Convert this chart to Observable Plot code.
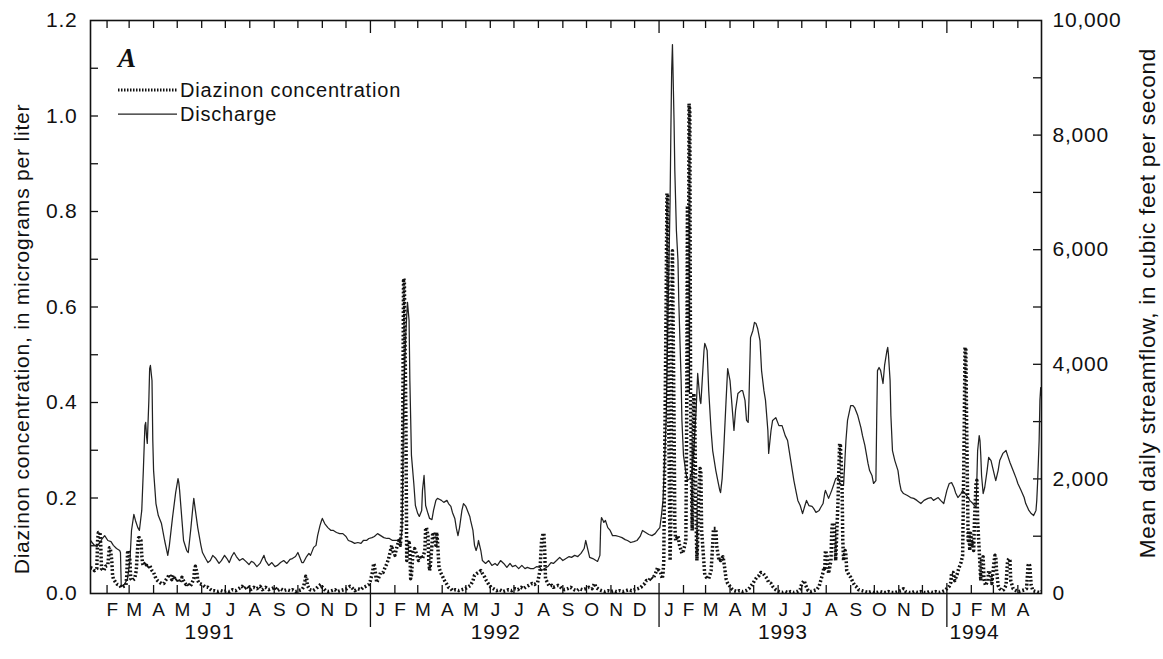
<!DOCTYPE html>
<html>
<head>
<meta charset="utf-8">
<script src="https://cdn.jsdelivr.net/npm/d3@7"></script>
<script src="https://cdn.jsdelivr.net/npm/@observablehq/plot@0.6"></script>
<style>
  html, body { margin: 0; padding: 0; background: #fff; }
  #chart svg text { letter-spacing: 0.8px; }
</style>
</head>
<body>
<div id="chart"></div>
<script>
// Days are counted from 1 January 1991 (day 0).
// Diazinon concentration, micrograms per liter: [day, concentration]
const diazinon1991 = [[10,.054],[13,.052],[15,.048],[18,.052],[19,.111],[20,.128],[22,.128],[23,.101],[24,.052],[27,.048],[29,.057],[32,.059],[33,.080],[34,.096],[35,.096],[37,.069],[38,.038],[39,.031],[42,.023],[44,.019],[47,.017],[49,.013],[52,.015],[55,.017],[56,.038],[57,.086],[58,.090],[60,.069],[61,.031],[63,.027],[66,.031],[68,.048],[70,.101],[71,.117],[72,.117],[74,.111],[75,.080],[76,.063],[77,.059],[80,.065],[82,.054],[85,.059],[88,.048],[90,.044],[93,.031],[95,.027],[98,.023],[100,.021],[103,.021],[105,.027],[108,.034],[110,.040],[113,.029],[115,.038],[118,.027],[121,.031],[123,.023],[126,.034],[128,.027],[131,.019],[133,.021],[136,.015],[138,.019],[141,.031],[142,.052],[143,.057],[145,.044],[146,.027],[148,.021],[151,.019],[153,.017],[156,.013],[159,.013],[161,.010],[164,.006],[167,.006],[171,.004],[175,.006],[179,.004],[183,.006],[186,.004],[190,.008],[194,.006],[198,.010],[202,.015],[205,.010],[209,.015],[213,.008],[217,.013],[221,.010],[225,.015],[228,.008],[232,.013],[236,.008],[240,.010],[244,.013],[247,.006],[251,.010],[255,.006],[259,.008],[263,.006],[266,.008],[270,.004],[274,.006],[278,.008],[280,.013],[282,.027],[283,.036],[284,.034],[285,.017],[288,.008],[292,.006],[296,.010],[299,.015],[302,.019],[304,.013],[308,.006],[312,.004],[316,.006],[320,.008],[323,.004],[327,.006],[331,.008],[335,.010],[339,.015],[341,.013],[345,.006],[349,.010],[353,.008],[356,.013],[359,.015],[363,.019]];
const diazinon1992 = [[365,.027],[368,.048],[369,.063],[370,.059],[373,.023],[375,.031],[378,.044],[381,.044],[383,.052],[386,.063],[388,.073],[391,.094],[392,.101],[393,.090],[396,.080],[398,.094],[401,.111],[403,.101],[405,.153],[406,.362],[407,.660],[408,.655],[410,.362],[411,.069],[412,.101],[414,.111],[415,.090],[416,.031],[417,.038],[419,.086],[421,.094],[424,.080],[426,.069],[429,.080],[431,.073],[434,.090],[435,.136],[436,.138],[438,.121],[439,.069],[440,.048],[441,.059],[443,.101],[444,.128],[445,.124],[448,.101],[449,.128],[450,.111],[452,.054],[454,.044],[457,.034],[459,.027],[462,.019],[464,.013],[467,.010],[469,.006],[473,.008],[477,.006],[481,.008],[485,.010],[488,.013],[492,.017],[495,.027],[497,.038],[500,.042],[502,.044],[505,.048],[507,.042],[510,.034],[512,.027],[515,.019],[518,.013],[521,.010],[525,.006],[529,.008],[533,.004],[537,.006],[540,.008],[544,.006],[548,.010],[552,.008],[556,.013],[559,.010],[563,.015],[566,.017],[570,.021],[573,.019],[577,.023],[580,.048],[582,.111],[584,.126],[585,.126],[586,.090],[587,.031],[590,.021],[592,.015],[595,.017],[597,.013],[600,.015],[603,.017],[605,.015],[608,.010],[611,.008],[615,.010],[619,.013],[623,.008],[627,.006],[630,.010],[634,.008],[638,.010],[642,.013],[646,.010],[648,.017],[649,.021],[651,.013],[655,.008],[658,.006],[662,.004],[666,.006],[670,.004],[674,.006],[677,.004],[681,.006],[685,.004],[689,.006],[693,.008],[696,.006],[700,.008],[704,.010],[708,.013],[710,.017],[713,.021],[715,.027],[718,.027],[721,.034],[723,.031],[726,.040],[728,.048],[729,.054]];
const diazinon1993 = [[731,.048],[733,.044],[735,.031],[736,.040],[737,.069],[738,.258],[740,.614],[741,.838],[742,.833],[743,.404],[745,.069],[746,.153],[747,.614],[748,.718],[750,.362],[751,.142],[752,.111],[755,.121],[757,.101],[760,.084],[762,.090],[765,.111],[766,.350],[767,.812],[768,.420],[769,1.026],[770,1.011],[771,.400],[773,.132],[774,.237],[775,.419],[776,.404],[778,.153],[779,.069],[780,.111],[781,.195],[783,.262],[784,.258],[785,.132],[789,.038],[791,.034],[794,.031],[797,.048],[799,.101],[800,.136],[803,.136],[804,.101],[807,.069],[808,.075],[809,.069],[812,.077],[813,.069],[816,.031],[818,.021],[821,.015],[823,.010],[826,.006],[830,.004],[833,.006],[837,.004],[841,.006],[845,.010],[847,.015],[850,.021],[852,.027],[855,.034],[858,.038],[860,.044],[863,.042],[865,.038],[868,.031],[870,.023],[873,.021],[875,.015],[879,.008],[883,.004],[887,.002],[891,.004],[894,.002],[898,.004],[902,.002],[906,.004],[910,.008],[912,.021],[915,.027],[917,.017],[920,.006],[923,.004],[927,.006],[931,.008],[934,.015],[936,.027],[939,.044],[940,.054],[941,.048],[942,.090],[944,.080],[946,.042],[949,.069],[950,.132],[951,.147],[953,.147],[954,.111],[955,.069],[958,.195],[959,.258],[960,.314],[961,.310],[963,.237],[964,.111],[965,.069],[967,.090],[968,.080],[969,.048],[972,.038],[974,.034],[977,.023],[979,.017],[982,.013],[984,.008],[988,.006],[992,.004],[996,.002],[1000,.004],[1003,.002],[1007,.002],[1011,.004],[1015,.002],[1019,.002],[1022,.004],[1026,.002],[1030,.002],[1034,.004],[1038,.006],[1041,.010],[1044,.004],[1048,.002],[1052,.002],[1055,.004],[1059,.002],[1063,.004],[1067,.002],[1071,.002],[1074,.004],[1078,.002],[1082,.004],[1086,.002],[1090,.004],[1093,.006]];
const diazinon1994 = [[1096,.010],[1099,.015],[1101,.023],[1102,.044],[1104,.044],[1106,.027],[1109,.040],[1111,.052],[1114,.065],[1116,.080],[1118,.341],[1119,.515],[1120,.515],[1121,.362],[1123,.111],[1124,.132],[1125,.090],[1126,.126],[1128,.101],[1129,.111],[1130,.090],[1131,.153],[1133,.232],[1134,.237],[1135,.153],[1137,.090],[1138,.059],[1139,.027],[1140,.073],[1142,.077],[1143,.031],[1145,.017],[1148,.027],[1149,.048],[1152,.038],[1153,.021],[1156,.069],[1157,.080],[1158,.077],[1159,.048],[1161,.017],[1163,.010],[1166,.006],[1168,.008],[1171,.017],[1173,.069],[1175,.073],[1176,.069],[1177,.027],[1180,.010],[1184,.006],[1187,.004],[1191,.006],[1195,.008],[1197,.010],[1199,.059],[1200,.063],[1201,.059],[1203,.017],[1205,.006],[1209,.004],[1213,.002],[1216,.004]];

// Mean daily streamflow, cubic feet per second: [day, discharge]
const discharge1991 = [[10,925],[14,855],[18,820],[22,890],[25,960],[28,1010],[32,925],[36,905],[39,840],[43,785],[47,750],[48,715],[49,120],[53,160],[57,260],[60,575],[62,1100],[65,1380],[67,1275],[70,1150],[72,1100],[75,1450],[77,2145],[79,2930],[80,2985],[81,2755],[82,2620],[84,3370],[85,3925],[86,3980],[88,3715],[89,2670],[90,2145],[93,1570],[96,1360],[100,1220],[104,925],[108,665],[110,840],[114,1325],[118,1760],[121,2005],[122,1935],[123,1800],[126,1275],[128,925],[132,750],[134,715],[137,1100],[140,1535],[141,1660],[143,1450],[146,1150],[150,840],[152,715],[156,610],[159,540],[162,575],[165,665],[169,610],[173,525],[176,575],[180,665],[183,610],[186,540],[189,645],[192,715],[195,645],[199,575],[203,610],[207,560],[211,505],[214,560],[217,540],[221,470],[225,525],[228,610],[230,665],[232,575],[236,490],[240,540],[244,470],[247,490],[251,540],[255,575],[259,525],[263,595],[266,610],[270,645],[273,715],[275,645],[278,540],[280,540],[284,645],[287,700],[289,665],[293,805],[296,840],[298,1010],[301,1185],[303,1275],[304,1310],[307,1220],[311,1150],[315,1100],[318,1100],[322,1065],[326,1045],[330,1045],[334,995],[337,925],[341,905],[345,875],[349,890],[353,875],[356,925],[360,925],[363,960]];
const discharge1992 = [[367,975],[370,995],[374,1045],[378,1010],[382,975],[386,960],[389,960],[393,925],[397,925],[401,925],[403,890],[405,1100],[406,1970],[407,3370],[410,4590],[412,5080],[414,4765],[415,3715],[416,3070],[417,2410],[420,1920],[422,1535],[425,1395],[427,1345],[430,1450],[431,1800],[433,2060],[434,1800],[435,1535],[438,1395],[440,1310],[443,1290],[445,1450],[448,1625],[450,1660],[453,1640],[455,1625],[458,1590],[462,1625],[464,1570],[467,1520],[469,1415],[472,1310],[474,1135],[476,1010],[478,1150],[481,1450],[483,1570],[486,1520],[488,1450],[491,1345],[492,1275],[495,1100],[497,840],[499,750],[501,840],[502,925],[505,750],[507,575],[511,525],[515,575],[519,490],[523,525],[526,490],[530,575],[534,525],[538,455],[542,525],[545,470],[549,490],[553,435],[557,490],[561,435],[564,455],[568,435],[572,435],[576,470],[580,455],[582,400],[586,435],[590,470],[594,540],[597,525],[601,575],[605,630],[609,575],[613,610],[617,645],[620,630],[624,665],[628,645],[632,700],[636,785],[638,925],[641,750],[643,630],[647,610],[651,575],[653,560],[656,665],[657,1185],[658,1325],[660,1275],[661,1240],[663,1275],[666,1150],[669,1100],[672,1010],[676,1010],[680,995],[684,975],[688,940],[691,925],[695,890],[699,905],[703,925],[707,995],[710,1100],[714,1065],[718,1030],[722,1010],[726,1045],[729,1100]];
const discharge1993 = [[732,1150],[734,1360],[736,1625],[737,1970],[740,3020],[742,4590],[745,6860],[746,8080],[747,9125],[748,9580],[750,8255],[751,7380],[752,6860],[753,6335],[755,5810],[756,5115],[759,3715],[760,3020],[762,2410],[765,2110],[767,1970],[770,2005],[773,2145],[775,2495],[778,3195],[780,3840],[783,3370],[784,3315],[785,3540],[788,4240],[789,4365],[790,4330],[792,4240],[794,3540],[797,2845],[799,2495],[803,2145],[806,1935],[808,1800],[809,1760],[811,2005],[813,2495],[816,3370],[818,3925],[821,3715],[823,3370],[826,2845],[828,3195],[831,3490],[835,3540],[837,3540],[840,3370],[842,3020],[844,2985],[845,3370],[847,4465],[850,4590],[852,4730],[854,4710],[856,4625],[859,4415],[861,3890],[864,3540],[866,3370],[869,2845],[870,2445],[873,2845],[875,3020],[879,3070],[883,2930],[887,2930],[891,2755],[894,2670],[896,2495],[900,2145],[902,1970],[905,1760],[907,1625],[910,1535],[913,1395],[916,1535],[918,1625],[921,1535],[925,1520],[927,1485],[930,1415],[934,1450],[936,1500],[939,1570],[941,1745],[942,1800],[945,1695],[946,1660],[950,1800],[953,1920],[955,2005],[958,2025],[960,1935],[963,1885],[965,1885],[968,2670],[970,3020],[974,3280],[977,3280],[979,3245],[983,3105],[987,2895],[989,2755],[992,2585],[996,2270],[998,2145],[1001,2060],[1003,1920],[1006,1970],[1007,3020],[1008,3890],[1010,3945],[1012,3890],[1015,3665],[1017,3980],[1020,4240],[1021,4295],[1022,4155],[1024,3715],[1025,3105],[1027,2495],[1030,2320],[1034,2145],[1036,1935],[1038,1800],[1041,1745],[1046,1710],[1050,1675],[1054,1660],[1058,1625],[1063,1570],[1067,1625],[1072,1660],[1076,1675],[1079,1625],[1085,1675],[1088,1625],[1092,1570]];
const discharge1994 = [[1096,1800],[1099,1920],[1102,1935],[1105,1850],[1107,1760],[1110,1675],[1114,1745],[1116,1800],[1120,1730],[1123,1675],[1125,1625],[1129,1570],[1131,1535],[1133,1500],[1134,1970],[1135,2495],[1137,2755],[1138,2670],[1139,2410],[1140,2060],[1142,1745],[1144,1850],[1147,2145],[1149,2375],[1152,2320],[1154,2200],[1157,2025],[1158,1970],[1161,2145],[1163,2320],[1167,2445],[1171,2495],[1173,2410],[1176,2285],[1180,2145],[1184,2005],[1186,1920],[1190,1800],[1194,1675],[1196,1570],[1200,1450],[1203,1395],[1206,1360],[1209,1450],[1210,1625],[1211,1920],[1213,2670],[1214,3370],[1215,3595],[1216,3455]];

// Axis ticks and labels
const concTicks = [0, 0.2, 0.4, 0.6, 0.8, 1.0, 1.2];
const concMinorTicks = [0.1, 0.2, 0.3, 0.4, 0.5, 0.6, 0.7, 0.8, 0.9, 1.0, 1.1];
const flowTicks = [0, 2000, 4000, 6000, 8000, 10000];
const flowMinorTicks = [1000, 2000, 3000, 4000, 5000, 6000, 7000, 8000, 9000];
const monthInitials = ["J", "F", "M", "A", "M", "J", "J", "A", "S", "O", "N", "D"];
const yearLabels = ["1991", "1992", "1993", "1994"];
const yearLabelDates = ["1991-06-11", "1992-06-08", "1993-06-07", "1994-02-05"];
const firstDay = 10, lastDay = 1216;

const leftTitle = "Diazinon concentration, in micrograms per liter";
const rightTitle = "Mean daily streamflow, in cubic feet per second";
const legendLabels = ["Diazinon concentration", "Discharge"];
const panelLetter = "A";

const origin = new Date(Date.UTC(1991, 0, 1));
const toDate = day => d3.utcDay.offset(origin, day);
const flowToConc = 1.2 / 10000; // streamflow shares the concentration axis

const diazinon = [...diazinon1991, ...diazinon1992, ...diazinon1993, ...diazinon1994]
  .map(([day, c]) => ({date: toDate(day), c}));
const discharge = [...discharge1991, ...discharge1992, ...discharge1993, ...discharge1994]
  .map(([day, q]) => ({date: toDate(day), q}));

const xStart = toDate(firstDay), xEnd = toDate(lastDay);
const monthStarts = d3.utcMonth.range(new Date(Date.UTC(1991, 1, 1)), xEnd);
const monthTicks = monthStarts.filter(d => d.getUTCMonth() !== 0);
const yearStarts = monthStarts.filter(d => d.getUTCMonth() === 0);
// month initials sit early in the month; January clears the year rule
const monthLabelDate = d => d3.utcDay.offset(d, d.getUTCMonth() === 0 ? 13 : 7);

const ink = "#111";
const dots = "1.8,2.1";

const chart = Plot.plot({
  width: 1163,
  height: 659,
  marginLeft: 90,
  marginRight: 122,
  marginTop: 20,
  marginBottom: 66,
  style: {fontFamily: "'Liberation Sans', Arial, Helvetica, sans-serif", fontSize: "20px", color: ink, background: "#fff"},
  x: {type: "utc", domain: [xStart, xEnd], axis: null},
  y: {domain: [0, 1.2], axis: null},
  marks: [
    // tick marks pointing into the plot
    Plot.ruleX(monthTicks, {x: d => d, y1: 0, y2: 0, insetBottom: 8, stroke: ink, strokeWidth: 1.3}),
    Plot.ruleX(yearStarts, {x: d => d, y1: 0, y2: 0, insetTop: 34, insetBottom: 10, stroke: ink, strokeWidth: 1.3}),
    Plot.ruleX(monthTicks, {x: d => d, y1: 1.2, y2: 1.2, insetBottom: -8, stroke: ink, strokeWidth: 1.3}),
    Plot.ruleX(yearStarts, {x: d => d, y1: 1.2, y2: 1.2, insetBottom: -13, stroke: ink, strokeWidth: 1.3}),
    Plot.ruleY(concMinorTicks, {y: d => d, x1: xStart, x2: xStart, insetRight: -8, stroke: ink, strokeWidth: 1.3}),
    Plot.ruleY(flowMinorTicks, {y: d => d * flowToConc, x1: xEnd, x2: xEnd, insetLeft: -8, stroke: ink, strokeWidth: 1.3}),

    // series
    Plot.line(discharge, {x: "date", y: d => d.q * flowToConc, stroke: "#222", strokeWidth: 1.25, clip: true}),
    Plot.line(diazinon, {x: "date", y: "c", stroke: ink, strokeWidth: 3.5, strokeDasharray: dots, strokeLinecap: "butt", clip: true}),

    Plot.frame({stroke: ink, strokeWidth: 1.6}),

    // axes
    Plot.axisY(concTicks, {anchor: "left", tickSize: 0, tickPadding: 13, tickFormat: d3.format(".1f"), fontSize: 21, label: null}),
    Plot.axisY(flowTicks.map(q => q * flowToConc), {anchor: "right", tickSize: 0, tickPadding: 11, tickFormat: v => d3.format(",")(Math.round(v / flowToConc)), fontSize: 21, label: null}),
    Plot.text(monthStarts, {x: monthLabelDate, text: d => monthInitials[d.getUTCMonth()], frameAnchor: "bottom", dy: 22, fontSize: 19}),
    Plot.text(yearLabels, {x: (d, i) => new Date(yearLabelDates[i]), text: d => d, frameAnchor: "bottom", dy: 45, fontSize: 21}),
    Plot.text([leftTitle], {frameAnchor: "left", textAnchor: "middle", rotate: -90, dx: -68, dy: 32, fontSize: 21}),
    Plot.text([rightTitle], {frameAnchor: "right", textAnchor: "middle", rotate: -90, dx: 106, dy: -4, fontSize: 22.5})
  ]
});

// Legend and panel letter
const svg = d3.select(chart);
const legend = svg.append("g").attr("fill", ink).attr("text-anchor", "start");
legend.append("text")
  .attr("x", 118).attr("y", 67)
  .attr("font-family", "'Liberation Serif', 'Times New Roman', serif")
  .attr("font-weight", "bold").attr("font-style", "italic")
  .attr("font-size", 27).style("letter-spacing", "0px")
  .text(panelLetter);
legend.append("line")
  .attr("x1", 118).attr("x2", 177).attr("y1", 90).attr("y2", 90)
  .attr("stroke", ink).attr("stroke-width", 3).attr("stroke-dasharray", "1.5,1.5");
legend.append("line")
  .attr("x1", 118).attr("x2", 177).attr("y1", 114).attr("y2", 114)
  .attr("stroke", "#222").attr("stroke-width", 1.25);
legend.append("text").attr("x", 180).attr("y", 97).attr("font-size", 20).text(legendLabels[0]);
legend.append("text").attr("x", 180).attr("y", 121).attr("font-size", 20).text(legendLabels[1]);

document.getElementById("chart").appendChild(chart);
</script>
</body>
</html>
